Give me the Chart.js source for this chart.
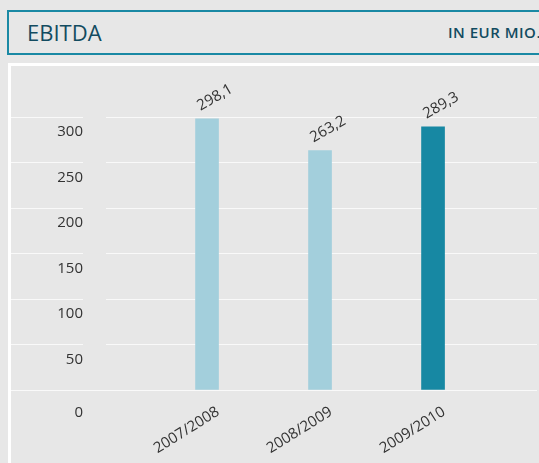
<!DOCTYPE html>
<html>
<head>
<meta charset="utf-8">
<script src="https://cdn.jsdelivr.net/npm/chart.js@4"></script>
<style>
  body { margin: 0; background: #e7e7e7; font-family: "Open Sans", sans-serif; }
  .header {
    position: absolute; left: 7px; top: 10px; width: 560px; height: 41px;
    border: 2px solid #1a89a4;
  }
  .header .title { position: absolute; left: 18px; top: 5px; font-size: 22px; color: #124b60; }
  .header .unit { position: absolute; left: 439px; top: 10px; font-size: 15px; font-weight: 600; color: #124b60; letter-spacing: 0.5px; }
  .frame {
    position: absolute; left: 8px; top: 63px; width: 560px; height: 420px;
    border-left: 3px solid #fff; border-top: 3px solid #fff;
  }
  .frame canvas { position: absolute; left: 0; top: 0; }
</style>
</head>
<body>
<div class="header"><span class="title">EBITDA</span><span class="unit">IN EUR MIO.</span></div>
<div class="frame"><canvas id="ebitdaChart" width="528" height="397"></canvas></div>
<script>
const categories = ['2007/2008', '2008/2009', '2009/2010'];
const ebitdaValues = [298.1, 263.2, 289.3];
const yTicks = [0, 50, 100, 150, 200, 250, 300];

const barColors = ['#a3cfdc', '#a3cfdc', '#1788a3'];

// rotated value labels above the bars
const valueLabels = {
    id: 'valueLabels',
    afterDatasetsDraw(chart) {
        const ctx = chart.ctx;
        const meta = chart.getDatasetMeta(0);
        ctx.save();
        ctx.font = '15px "Open Sans"';
        ctx.fillStyle = '#333';
        ctx.textAlign = 'left';
        ctx.textBaseline = 'alphabetic';
        meta.data.forEach((bar, i) => {
            ctx.save();
            ctx.translate(bar.x - 6.5, bar.y - 8);
            ctx.rotate(-30 * Math.PI / 180);
            ctx.fillText(ebitdaValues[i].toFixed(1).replace('.', ','), 0, 0);
            ctx.restore();
        });
        ctx.restore();
    }
};

Chart.defaults.font.family = '"Open Sans", sans-serif';
Chart.defaults.color = '#333';

const ebitdaChart = new Chart(document.getElementById('ebitdaChart'), {
    type: 'bar',
    data: {
        datasets: [{
            label: 'EBITDA',
            data: ebitdaValues.map((v, i) => ({ x: i, y: v })),
            backgroundColor: barColors,
            barThickness: 23
        }]
    },
    options: {
        responsive: false,
        animation: false,
        layout: { padding: { top: 51, right: 2, left: 0, bottom: 0 } },
        plugins: { legend: { display: false }, tooltip: { enabled: false } },
        scales: {
            x: {
                type: 'linear',
                offset: false,
                min: -0.894,
                max: 2.92,
                grid: { display: false },
                border: { display: false },
                afterBuildTicks: s => { s.ticks = categories.map((c, i) => ({ value: i })); },
                afterFit: s => { s.height = 73; },
                ticks: {
                    font: { size: 15 },
                    minRotation: 32,
                    maxRotation: 32,
                    padding: 5,
                    labelOffset: 11,
                    callback: v => categories[v]
                }
            },
            y: {
                min: 0,
                max: 300,
                z: 1,
                afterBuildTicks: s => { s.ticks = yTicks.map(v => ({ value: v })); },
                afterFit: s => { s.width = 95; },
                border: { display: false },
                grid: {
                    color: 'rgba(255,255,255,0.75)',
                    lineWidth: 1,
                    tickLength: 95,
                    tickBorderDash: ctx => ctx.tick && ctx.tick.value === 0 ? [] : [72, 23]
                },
                ticks: {
                    font: { size: 15, lineHeight: 1.0 },
                    padding: -72,
                    labelOffset: 15,
                    // the zero label sits a little lower than the others
                    callback: v => v === 0 ? ['', '0'] : v
                }
            }
        }
    },
    plugins: [valueLabels]
});
</script>
</body>
</html>
